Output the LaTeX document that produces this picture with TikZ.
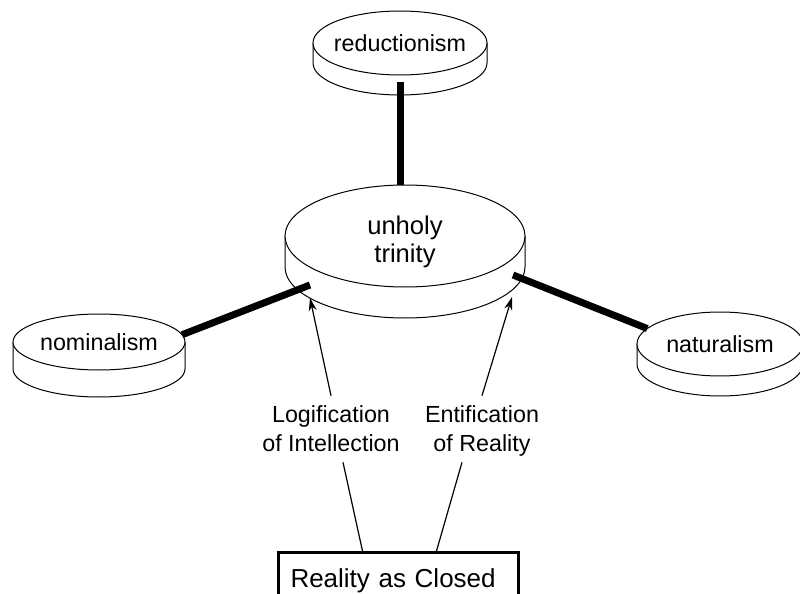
\documentclass[tikz,border=0pt]{standalone}
\usepackage{fontspec}
\setmainfont{Liberation Sans}
\usetikzlibrary{shapes.geometric, backgrounds, calc, arrows.meta}
\tikzset{>={Stealth[length=6.5pt, width=4pt]}}

\begin{document}
\begin{tikzpicture}[x=0.5pt, y=-0.5pt,
    disk/.style={ellipse, draw, fill=white, line width=0.5pt, inner xsep=-10pt, inner ysep=0pt, outer sep=0pt, font=\fontsize{11.65}{14}\selectfont},
    side/.style={draw, fill=white, line width=0.5pt},
    link/.style={line width=3.5pt},
    tag/.style={align=center, inner sep=5pt, text depth=0pt, font=\fontsize{11.65}{14.5}\selectfont},
    closedbox/.style={draw, line width=1.5pt, anchor=north west, text width=108pt, align=left, inner xsep=6pt, inner ysep=8pt, text depth=25pt, font=\fontsize{13}{15}\selectfont}]
    \useasboundingbox (0,0) rectangle (800,594);
    \clip (0,0) rectangle (800,594);
    \node[disk, minimum width=87pt, minimum height=32pt] (red) at (400,43) {reductionism};
    \node[disk, minimum width=120pt, minimum height=51pt, text height=27pt, text depth=0pt, align=center, font=\fontsize{12.8}{14}\selectfont] (trin) at (405,236) {unholy\\trinity};
    \node[disk, minimum width=86pt, minimum height=28pt] (nom) at (99,342) {nominalism};
    \node[disk, minimum width=83pt, minimum height=32pt] (nat) at (720,344) {naturalism};
    % sides of the disks
    \begin{scope}[on background layer]
        \draw[side] (red.west) -- ++(0,20) arc[start angle=180, end angle=0, x radius=87, y radius=32] -- (red.east);
        \draw[side] (trin.west) -- ++(0,31) arc[start angle=180, end angle=0, x radius=120, y radius=51] -- (trin.east);
        \draw[side] (nom.west) -- ++(0,27) arc[start angle=180, end angle=0, x radius=86, y radius=28] -- (nom.east);
        \draw[side] (nat.west) -- ++(0,20) arc[start angle=180, end angle=0, x radius=83, y radius=32] -- (nat.east);
    \end{scope}
    \draw[link] ([yshift=-3.5pt]red.south) -- (red.south |- trin.north);
    \draw[link] (nom.5) -- ($(trin.center)+(-95,49)$);
    \draw[link] ($(trin.center)+(108,39)$) -- (nat.168);
    \node[tag] (logi) at (331,429) {Logification\\of Intellection};
    \node[tag] (enti) at (482,429) {Entification\\of Reality};
    \draw[->, line width=0.6pt] (logi.north) -- ($(trin.center)+(-95,62)$);
    \draw[->, line width=0.6pt] (enti.north) -- ($(trin.center)+(107,61)$);
    \node[closedbox] (rac) at (277,551) {Reality as Closed};
    \draw[line width=0.6pt] ($(logi.south)+(12,0)$) -- ($(rac.north)+(-36,0)$);
    \draw[line width=0.6pt] ($(enti.south)+(-20,0)$) -- ($(rac.north)+(38,0)$);
\end{tikzpicture}
\end{document}
